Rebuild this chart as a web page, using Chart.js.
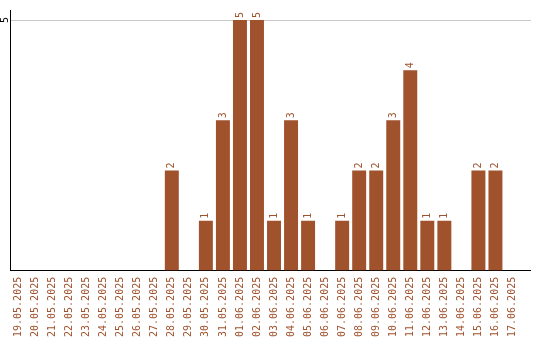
<!DOCTYPE html>
<html><head><meta charset="utf-8">
<script src="https://cdn.jsdelivr.net/npm/chart.js@4"></script>
<style>html,body{margin:0;padding:0;background:#fff}#wrap{width:540px;height:340px}</style>
</head><body><div id="wrap"><canvas id="c" width="540" height="340"></canvas></div>
<script>
const categories = ["19.05.2025","20.05.2025","21.05.2025","22.05.2025","23.05.2025","24.05.2025","25.05.2025","26.05.2025","27.05.2025","28.05.2025","29.05.2025","30.05.2025","31.05.2025","01.06.2025","02.06.2025","03.06.2025","04.06.2025","05.06.2025","06.06.2025","07.06.2025","08.06.2025","09.06.2025","10.06.2025","11.06.2025","12.06.2025","13.06.2025","14.06.2025","15.06.2025","16.06.2025","17.06.2025"];
const values = [0,0,0,0,0,0,0,0,0,2,0,1,3,5,5,1,3,1,0,1,2,2,3,4,1,1,0,2,2,0];
const yTicks = [5];

const COLOR = '#A0522D';
const FONT = '10px "DejaVu Sans Mono", monospace';

const labelPlugin = {
  id: 'labels',
  afterDatasetsDraw(chart) {
    const ctx = chart.ctx;
    const meta = chart.getDatasetMeta(0);
    const ys = chart.scales.y;
    const xs = chart.scales.x;
    const area = chart.chartArea;
    ctx.save();
    ctx.lineWidth = 1;
    yTicks.forEach(t => {
      const py = Math.round(ys.getPixelForValue(t) - 0.5) + 0.5;
      ctx.strokeStyle = '#c8c8c8';
      ctx.beginPath(); ctx.moveTo(area.right, py); ctx.lineTo(531, py); ctx.stroke();
    });
    const by = Math.round(xs.top - 0.5) + 0.5;
    ctx.strokeStyle = '#000';
    ctx.beginPath(); ctx.moveTo(area.right - 1, by); ctx.lineTo(531, by); ctx.stroke();

    ctx.font = FONT;
    ctx.fillStyle = COLOR;
    ctx.textAlign = 'left';
    ctx.textBaseline = 'middle';
    meta.data.forEach((bar, i) => {
      const v = values[i];
      if (!v) return;
      ctx.save();
      ctx.translate(bar.x, bar.y - 2);
      ctx.rotate(-Math.PI / 2);
      ctx.fillText(String(v), 0, 0);
      ctx.restore();
    });
    ctx.fillStyle = '#000';
    ctx.textAlign = 'center';
    yTicks.forEach(t => {
      ctx.save();
      ctx.translate(5, ys.getPixelForValue(t));
      ctx.rotate(-Math.PI / 2);
      ctx.fillText(String(t), 0, 0);
      ctx.restore();
    });
    ctx.restore();
  }
};

new Chart(document.getElementById('c'), {
  type: 'bar',
  data: { labels: categories, datasets: [{ data: values, backgroundColor: COLOR, barPercentage: 0.82, categoryPercentage: 1 }] },
  options: {
    responsive: false, animation: false,
    layout: { padding: { left: 10, top: 10, right: 19, bottom: -3 } },
    plugins: { legend: { display: false }, tooltip: { enabled: false } },
    scales: {
      x: {
        grid: { display: false, drawTicks: false },
        border: { color: '#000', width: 1 },
        ticks: { color: COLOR, font: { family: '"DejaVu Sans Mono", monospace', size: 10 }, minRotation: 90, maxRotation: 90, autoSkip: false, padding: 6 }
      },
      y: {
        min: 0, max: 5.2,
        afterBuildTicks(s) { s.ticks = [0].concat(yTicks).map(v => ({ value: v })); },
        grid: { color: '#c8c8c8', drawTicks: false, tickLength: 0 },
        border: { color: '#000', width: 1 },
        ticks: { display: false }
      }
    }
  },
  plugins: [labelPlugin]
});
</script></body></html>
